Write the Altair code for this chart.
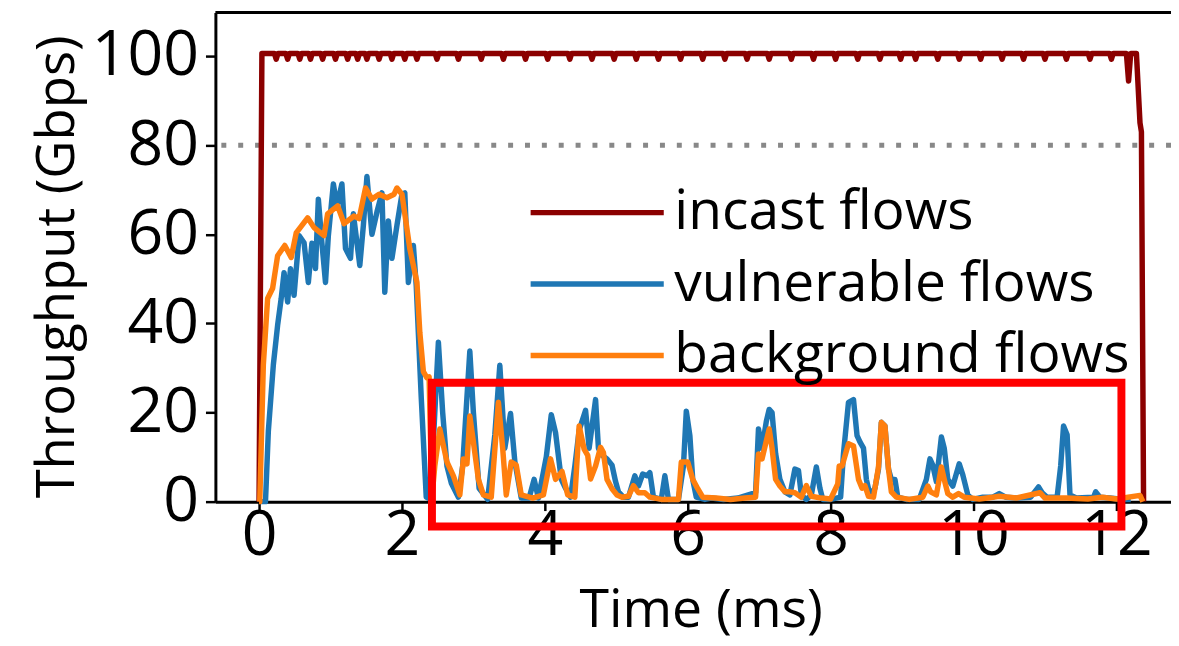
import altair as alt
import pandas as pd

# ---------------- data ----------------
series_names = ["incast flows", "vulnerable flows", "background flows"]
series_colors = ["#8b0000", "#1f77b4", "#ff7f0e"]

incast = [
    (0.00, 0.0), (0.04, 100.6),
    (0.215, 100.6), (0.24, 99.3), (0.265, 100.6),
    (0.375, 100.6), (0.40, 99.3), (0.425, 100.6),
    (0.545, 100.6), (0.57, 99.3), (0.595, 100.6),
    (0.695, 100.6), (0.72, 99.3), (0.745, 100.6),
    (0.865, 100.6), (0.89, 99.3), (0.915, 100.6),
    (1.045, 100.6), (1.07, 99.3), (1.095, 100.6),
    (1.215, 100.6), (1.24, 99.3), (1.265, 100.6),
    (1.355, 100.6), (1.38, 99.3), (1.405, 100.6),
    (1.485, 100.6), (1.51, 99.3), (1.535, 100.6),
    (1.655, 100.6), (1.68, 99.3), (1.705, 100.6),
    (1.835, 100.6), (1.86, 99.3), (1.885, 100.6),
    (2.015, 100.6), (2.04, 99.3), (2.065, 100.6),
    (2.185, 100.6), (2.21, 99.3), (2.235, 100.6),
    (2.465, 100.6), (2.49, 99.3), (2.515, 100.6),
    (2.765, 100.6), (2.79, 99.3), (2.815, 100.6),
    (3.085, 100.6), (3.11, 99.3), (3.135, 100.6),
    (3.395, 100.6), (3.42, 99.3), (3.445, 100.6),
    (3.705, 100.6), (3.73, 99.3), (3.755, 100.6),
    (4.015, 100.6), (4.04, 99.3), (4.065, 100.6),
    (4.325, 100.6), (4.35, 99.3), (4.375, 100.6),
    (4.635, 100.6), (4.66, 99.3), (4.685, 100.6),
    (4.945, 100.6), (4.97, 99.3), (4.995, 100.6),
    (5.255, 100.6), (5.28, 99.3), (5.305, 100.6),
    (5.565, 100.6), (5.59, 99.3), (5.615, 100.6),
    (5.875, 100.6), (5.90, 99.3), (5.925, 100.6),
    (6.185, 100.6), (6.21, 99.3), (6.235, 100.6),
    (6.495, 100.6), (6.52, 99.3), (6.545, 100.6),
    (6.805, 100.6), (6.83, 99.3), (6.855, 100.6),
    (7.115, 100.6), (7.14, 99.3), (7.165, 100.6),
    (7.425, 100.6), (7.45, 99.3), (7.475, 100.6),
    (7.735, 100.6), (7.76, 99.3), (7.785, 100.6),
    (8.045, 100.6), (8.07, 99.3), (8.095, 100.6),
    (8.355, 100.6), (8.38, 99.3), (8.405, 100.6),
    (8.665, 100.6), (8.69, 99.3), (8.715, 100.6),
    (8.955, 100.6), (8.98, 99.3), (9.005, 100.6),
    (9.165, 100.6), (9.19, 99.3), (9.215, 100.6),
    (9.475, 100.6), (9.50, 99.3), (9.525, 100.6),
    (9.775, 100.6), (9.80, 99.3), (9.825, 100.6),
    (10.075, 100.6), (10.10, 99.3), (10.125, 100.6),
    (10.375, 100.6), (10.40, 99.3), (10.425, 100.6),
    (10.675, 100.6), (10.70, 99.3), (10.725, 100.6),
    (10.975, 100.6), (11.00, 99.3), (11.025, 100.6),
    (11.275, 100.6), (11.30, 99.3), (11.325, 100.6),
    (11.605, 100.6), (11.63, 99.3), (11.655, 100.6),
    (11.905, 100.6), (11.93, 99.3), (11.955, 100.6),
    (12.14, 100.6), (12.17, 94.4), (12.20, 100.6), (12.28, 100.6),
    (12.33, 85.0), (12.35, 83.0), (12.38, 0.0),
]

vulnerable = [
    (0.00, 0.0), (0.09, 0.0), (0.13, 15.8), (0.20, 30.7), (0.26, 39.6),
    (0.31, 45.6), (0.35, 51.4), (0.40, 44.8), (0.44, 52.3), (0.49, 46.3),
    (0.56, 59.7), (0.63, 58.1), (0.69, 49.2), (0.74, 58.0), (0.79, 52.3),
    (0.83, 67.9), (0.88, 58.0), (0.93, 49.2), (0.97, 59.7), (1.04, 71.3),
    (1.09, 66.4), (1.16, 71.3), (1.21, 56.8), (1.28, 54.6), (1.32, 64.6),
    (1.41, 53.0), (1.46, 62.0), (1.51, 73.0), (1.58, 60.0), (1.65, 65.0),
    (1.72, 69.3), (1.76, 47.0), (1.81, 63.0), (1.86, 54.6), (1.93, 62.0),
    (2.00, 69.0), (2.04, 69.3), (2.09, 49.2), (2.16, 57.5), (2.20, 48.5),
    (2.27, 23.4), (2.34, 1.0), (2.40, 0.5), (2.46, 20.0), (2.51, 35.8),
    (2.57, 20.0), (2.63, 8.0), (2.69, 4.2), (2.79, 1.0), (2.85, 8.0),
    (2.95, 33.8), (3.00, 20.0), (3.08, 3.0), (3.20, 0.5), (3.30, 15.0),
    (3.37, 30.6), (3.44, 12.0), (3.52, 19.8), (3.58, 9.0), (3.67, 0.8),
    (3.78, 0.8), (3.85, 5.0), (3.91, 0.8), (4.02, 10.0), (4.09, 19.5),
    (4.15, 15.5), (4.23, 5.0), (4.29, 3.0), (4.36, 1.0), (4.42, 8.0),
    (4.48, 16.0), (4.57, 20.5), (4.62, 12.0), (4.71, 22.9), (4.75, 12.0),
    (4.80, 10.4), (4.87, 9.6), (4.94, 8.2), (4.99, 4.5), (5.03, 2.2),
    (5.10, 1.0), (5.17, 1.0), (5.26, 5.8), (5.31, 3.5), (5.37, 6.2),
    (5.43, 5.8), (5.47, 6.5), (5.52, 1.0), (5.63, 0.5), (5.68, 5.8),
    (5.73, 0.5), (5.87, 0.5), (5.94, 8.0), (5.98, 20.3), (6.03, 14.8),
    (6.07, 5.0), (6.12, 1.0), (6.24, 0.5), (6.33, 0.8), (6.50, 0.5),
    (6.70, 0.8), (6.95, 2.0), (6.99, 16.3), (7.04, 12.0), (7.10, 18.0),
    (7.14, 20.7), (7.18, 20.0), (7.23, 10.8), (7.29, 5.0), (7.36, 2.2),
    (7.43, 1.5), (7.50, 7.3), (7.55, 7.0), (7.59, 1.5), (7.66, 0.5),
    (7.73, 1.5), (7.80, 7.8), (7.85, 3.0), (7.89, 0.5), (8.00, 0.5),
    (8.14, 1.0), (8.18, 10.8), (8.25, 22.3), (8.32, 22.9), (8.37, 14.8),
    (8.41, 13.4), (8.46, 12.0), (8.50, 5.0), (8.55, 1.5), (8.62, 3.0),
    (8.67, 7.3), (8.71, 17.8), (8.76, 17.0), (8.81, 7.3), (8.85, 5.0),
    (8.90, 5.0), (8.94, 1.0), (9.06, 0.5), (9.24, 0.5), (9.34, 5.0),
    (9.39, 9.6), (9.43, 8.2), (9.48, 4.5), (9.55, 14.5), (9.59, 12.0),
    (9.64, 5.0), (9.71, 3.5), (9.80, 8.5), (9.85, 6.0), (9.92, 1.5),
    (9.99, 0.5), (10.13, 1.0), (10.27, 1.0), (10.36, 1.8), (10.45, 1.0),
    (10.60, 0.8), (10.80, 1.0), (10.91, 3.3), (10.96, 2.0), (11.03, 1.0),
    (11.17, 1.0), (11.22, 8.0), (11.26, 17.0), (11.31, 15.0), (11.35, 1.5),
    (11.44, 0.8), (11.68, 1.0), (11.71, 2.2), (11.77, 1.0), (11.91, 0.8),
    (12.10, 0.5), (12.20, 0.5),
]

background = [
    (0.00, 0.0), (0.01, 0.0), (0.06, 30.7), (0.12, 45.6), (0.19, 47.9),
    (0.26, 55.2), (0.36, 57.5), (0.45, 54.8), (0.52, 60.3), (0.68, 63.7),
    (0.77, 61.5), (0.91, 59.7), (0.96, 64.6), (1.10, 66.4), (1.19, 62.4),
    (1.33, 64.1), (1.40, 63.5), (1.49, 70.4), (1.58, 67.9), (1.68, 69.0),
    (1.79, 68.2), (1.89, 69.0), (1.93, 70.4), (2.00, 69.0), (2.11, 56.8),
    (2.21, 49.2), (2.25, 38.0), (2.30, 29.2), (2.35, 27.8), (2.38, 28.0),
    (2.42, 1.0), (2.46, 8.0), (2.53, 16.3), (2.63, 8.9), (2.72, 5.8),
    (2.81, 1.5), (2.86, 9.6), (2.91, 8.5), (2.95, 19.2), (3.00, 13.4),
    (3.07, 5.0), (3.14, 1.5), (3.25, 1.0), (3.35, 22.3), (3.41, 12.0),
    (3.46, 1.5), (3.53, 8.9), (3.60, 8.2), (3.67, 1.5), (3.83, 0.8),
    (3.98, 1.5), (4.08, 9.6), (4.15, 5.0), (4.24, 6.8), (4.32, 1.5),
    (4.42, 1.0), (4.48, 17.0), (4.55, 11.8), (4.60, 10.4), (4.64, 5.1),
    (4.71, 8.0), (4.78, 12.2), (4.82, 11.0), (4.87, 5.0), (4.94, 2.9),
    (5.01, 1.5), (5.08, 1.0), (5.17, 1.2), (5.24, 3.6), (5.31, 2.0),
    (5.40, 2.0), (5.47, 1.0), (5.63, 0.5), (5.87, 0.5), (5.91, 8.9),
    (6.00, 8.9), (6.07, 5.0), (6.14, 2.9), (6.21, 1.0), (6.40, 0.8),
    (6.60, 0.5), (6.80, 0.8), (6.95, 1.0), (6.99, 10.7), (7.04, 9.6),
    (7.14, 16.3), (7.18, 12.0), (7.23, 5.0), (7.29, 3.5), (7.36, 2.2),
    (7.43, 2.2), (7.50, 2.0), (7.59, 1.0), (7.66, 3.6), (7.73, 1.2),
    (7.87, 0.8), (8.00, 0.6), (8.10, 4.0), (8.12, 8.0), (8.16, 8.0),
    (8.25, 13.0), (8.32, 12.5), (8.39, 5.0), (8.44, 3.0), (8.48, 3.6),
    (8.53, 1.2), (8.60, 1.0), (8.67, 7.8), (8.71, 17.8), (8.76, 17.0),
    (8.81, 7.3), (8.85, 2.2), (8.92, 1.0), (9.10, 0.5), (9.29, 1.0),
    (9.36, 3.5), (9.40, 2.2), (9.48, 1.5), (9.55, 7.8), (9.59, 5.0),
    (9.64, 1.8), (9.71, 1.0), (9.79, 1.8), (9.87, 1.0), (10.08, 0.6),
    (10.27, 1.0), (10.36, 1.2), (10.60, 0.8), (10.93, 2.0), (11.00, 0.8),
    (11.30, 0.8), (11.60, 0.6), (11.80, 1.0), (12.00, 0.6), (12.33, 1.4),
    (12.37, 0.0),
]

x_ticks = [0, 2, 4, 6, 8, 10, 12]
y_ticks = [0, 20, 40, 60, 80, 100]
x_domain = [-0.611, 12.764]
y_domain = [0, 109.8]
ref_level = [80]
frame_top = [109.8]
highlight_box = {"t0": [2.42], "t1": [12.07], "v0": [-5.6], "v1": [26.7]}

# ---------------- tables ----------------
def to_df(pairs, name):
    return pd.DataFrame({"t": [p[0] for p in pairs], "v": [p[1] for p in pairs],
                         "series": name, "idx": list(range(len(pairs)))})

df_inc = to_df(incast, series_names[0])
df_vul = to_df(vulnerable, series_names[1])
df_bg = to_df(background, series_names[2])
df_ref = pd.DataFrame({"v": ref_level})
df_top = pd.DataFrame({"v": frame_top})
df_box = pd.DataFrame(highlight_box)

FONT = "Open Sans"
xs = alt.Scale(domain=x_domain, nice=False, zero=False)
ys = alt.Scale(domain=y_domain, nice=False, zero=False)
color_scale = alt.Scale(domain=series_names, range=series_colors)

xaxis = alt.Axis(values=x_ticks, title="Time (ms)", grid=False, tickSize=9, tickWidth=2.5,
                 domain=True, domainWidth=3, domainColor="black",
                 labelPadding=-6, labelFontSize=63, titleFontSize=54,
                 titleFontWeight="normal", titleX=489, titleY=126, titleBaseline="alphabetic",
                 labelFlush=False)
yaxis = alt.Axis(values=y_ticks, title="Throughput (Gbps)", grid=False, tickSize=10, tickWidth=2.5,
                 domain=True, domainWidth=3, domainColor="black",
                 labelPadding=7, labelFontSize=63, titleFontSize=53,
                 titleFontWeight="normal", titleX=-143, titleY=256, titleAngle=-90,
                 titleBaseline="alphabetic", titleAlign="center", labelFlush=False)

legend = alt.Legend(title=None, orient="none", legendX=357, legendY=174,
                    symbolType="M-5,0L5,0", symbolSize=720,
                    symbolStrokeWidth=5.5, labelFontSize=55.5,
                    labelOffset=50, rowPadding=15, padding=0,
                    labelFont=FONT, labelColor="black", labelLimit=600)

X = alt.X("t:Q", scale=xs, axis=xaxis)
Y = alt.Y("v:Q", scale=ys, axis=yaxis)


def line_layer(df):
    return alt.Chart(df).mark_line(strokeWidth=5.5, strokeJoin="round").encode(
        x=X, y=Y,
        color=alt.Color("series:N", scale=color_scale, sort=series_names, legend=legend),
        order=alt.Order("idx:Q"),
    )

ref_line = alt.Chart(df_ref).mark_rule(color="#888888", strokeWidth=5, strokeDash=[5, 12]).encode(
    y=Y)

top_line = alt.Chart(df_top).mark_rule(color="black", strokeWidth=3).encode(y=Y)

box = alt.Chart(df_box).mark_rect(fill=None, stroke="#ff0000", strokeWidth=8, clip=False).encode(
    x=alt.X("t0:Q", scale=xs, axis=xaxis), x2="t1:Q",
    y=alt.Y("v0:Q", scale=ys, axis=yaxis), y2="v1:Q")

chart = alt.layer(
    top_line,
    ref_line,
    line_layer(df_inc),
    line_layer(df_vul),
    line_layer(df_bg),
    box,
).resolve_scale(color="shared").properties(
    width=963, height=493,
    background="white",
    autosize=alt.AutoSizeParams(type="none"),
    padding={"left": 209, "top": 2, "right": 0, "bottom": 141},
).configure_view(strokeWidth=0).configure_axis(
    labelFont=FONT, titleFont=FONT, labelColor="black", titleColor="black", tickColor="black"
)

chart.save("out.html", embed_options={"renderer": "svg", "actions": False})
